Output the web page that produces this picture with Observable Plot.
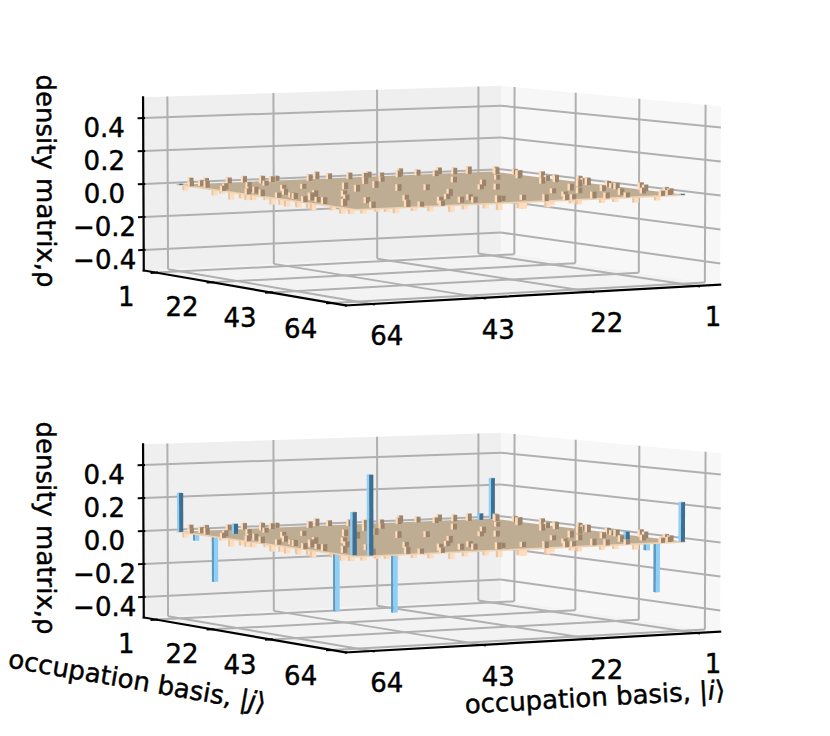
<!DOCTYPE html>
<html>
<head>
<meta charset="utf-8">
<script src="https://cdn.jsdelivr.net/npm/d3@7"></script>
<script src="https://cdn.jsdelivr.net/npm/@observablehq/plot@0.6"></script>
<style>
  html, body { margin: 0; padding: 0; background: #ffffff; }
  #chart svg { display: block; }
</style>
</head>
<body>
<div id="chart"></div>
<script>
// ---------------- data ----------------
const basisTicks = [1, 22, 43, 64];
const basisTickLabels = ["1", "22", "43", "64"];
const zTicks = [-0.4, -0.2, 0.0, 0.2, 0.4];
const zTickLabels = ["\u22120.4", "\u22120.2", "0.0", "0.2", "0.4"];
const basisSize = 64;
const zLabel = "density matrix,\u03c1";
const iLabel = "occupation basis, |i\u27e9";
const jLabel = "occupation basis, |j\u27e9";

// large matrix elements [i, j, value], lower panel
const signalLower = [
  [64, 1, 0.235], [64, 7, -0.04], [64, 14, -0.27], [58, 10, 0.06],
  [64, 57, -0.33], [63, 61, 0.245], [61, 63, 0.46], [57, 64, -0.33],
  [4, 2, 0.04], [1, 1, 0.255], [7, 56, 0.05], [8, 64, -0.04],
  [6, 64, -0.29], [1, 64, 0.235]
];
// same elements in the upper panel (almost zero)
const signalUpper = [
  [64, 1, 0.006], [1, 64, 0.006]
];
// visible small background elements [i, j, value], both panels
const background = [
  [64,3,-0.03],[62,5,0.035],[63,9,0.04],[61,11,-0.035],[64,17,0.03],[60,19,-0.04],
  [63,22,-0.035],[62,25,0.04],[64,28,-0.03],[59,30,0.035],[63,33,-0.045],[61,36,0.03],
  [64,38,-0.035],[60,41,0.04],[62,44,-0.04],[64,46,0.035],[59,49,-0.03],[63,51,0.04],
  [61,55,-0.035],[60,59,-0.04],[64,62,-0.03],
  [64,5,0.03],[63,12,-0.04],[62,14,0.035],[64,20,-0.045],[61,21,0.03],[63,24,-0.04],
  [64,26,0.035],[62,29,-0.03],[64,31,0.04],[60,32,-0.035],[63,35,0.03],[64,40,-0.04],
  [62,39,0.035],[63,42,-0.03],[61,43,0.04],[64,44,-0.035],[62,47,0.03],[64,49,-0.04],
  [63,54,-0.03],[62,56,0.04],[64,59,-0.035],[57,4,-0.03],
  [58,15,0.04],[56,27,-0.035],[57,37,0.04],[58,46,-0.03],[56,53,0.035],[55,58,-0.04],
  [55,61,-0.04],[52,64,0.03],[49,62,-0.035],[46,60,0.04],[43,63,-0.03],
  [40,61,0.035],[37,64,-0.04],[34,60,0.03],[31,62,-0.045],[28,64,0.04],[25,61,-0.035],
  [22,63,0.03],[19,60,-0.04],[16,64,0.035],[13,62,-0.03],[10,59,0.04],[4,61,-0.035],[3,63,0.03],
  [60,62,0.035],[58,60,-0.03],[54,63,0.04],[51,60,-0.035],[48,64,0.03],[45,62,-0.045],
  [42,60,0.035],[39,63,-0.03],[36,62,0.04],[33,64,-0.035],[30,60,0.03],[27,63,-0.04],
  [24,64,0.035],[21,61,-0.03],[18,63,0.04],[15,61,-0.035],[12,64,0.03],[9,62,-0.04],
  [2,62,0.035],[5,64,0.03],[47,57,-0.03],[38,56,0.035],[29,58,-0.04],[20,57,0.03],[11,56,-0.035],
  [60,3,0.04],[55,2,0.035],[50,5,0.045],[45,1,0.03],[40,4,0.04],[35,2,0.035],
  [30,6,0.04],[25,3,0.03],[20,1,0.045],[15,5,0.035],[10,3,0.04],
  [62,1,0.04],[52,2,0.04],[47,3,0.035],[37,1,0.045],[32,4,0.04],[27,2,0.035],
  [22,4,0.04],[17,2,0.035],[12,1,0.04],[7,3,0.045],[2,4,0.04],
  [3,6,0.04],[2,12,0.035],[5,17,0.045],[1,23,0.03],[4,28,0.04],[2,34,0.035],
  [6,39,0.04],[3,45,0.03],[1,51,0.045],[5,58,0.035],
  [1,9,0.035],[3,14,0.04],[2,20,0.045],[4,25,0.035],[1,31,0.04],[3,37,0.045],
  [2,42,0.035],[4,48,0.04],[2,54,0.04],[1,59,0.035],
  [45,30,0.04],[30,40,-0.04],[20,20,0.035],[50,45,-0.03],[35,15,0.04],[15,35,-0.035],
  [40,52,0.03],[25,28,-0.04],[55,22,0.035],[12,46,0.04],[48,12,-0.035],[18,50,0.03],
  [33,33,0.035],[42,8,-0.03],[8,30,0.04],[52,38,0.035],[27,55,-0.03],[38,24,0.04],
  [50,20,0.03],[44,14,-0.035],[38,32,0.04],[28,18,-0.03],[22,38,0.035],[16,26,-0.04],
  [10,18,0.03],[46,40,-0.035],[36,46,0.04],[26,44,-0.03],[14,52,0.035],[54,30,-0.04],
  [30,12,0.03],[20,30,0.04],[40,40,-0.03],[48,52,0.035],[34,50,-0.035],[24,36,0.03],
  [12,40,-0.04],[56,46,0.035],[44,24,0.04],[18,14,-0.03],[8,50,0.035],[52,10,0.03]
];

// ---------------- view / layout ----------------
const W = 830, H = 736;
const DEG = Math.PI / 180;
const cam = {phi: 30, elev: 4.3, dist: 12.3, scale: 422.4, cx: 427.2, cy: 189.2, panelGap: 347};
const box = {i: [-3.75, 68.75], j: [-3.75, 68.75], z: [-0.525, 0.525], zAspect: 0.4172};
const barWidth = 0.8;
const sinP = Math.sin(cam.phi * DEG), cosP = Math.cos(cam.phi * DEG);
const sinE = Math.sin(cam.elev * DEG), cosE = Math.cos(cam.elev * DEG);
const iMid = (box.i[0] + box.i[1]) / 2, iSpan = box.i[1] - box.i[0];
const jMid = (box.j[0] + box.j[1]) / 2, jSpan = box.j[1] - box.j[0];
const zMid = (box.z[0] + box.z[1]) / 2, zSpan = box.z[1] - box.z[0];

function norm(i, j, z) {
  return [(iMid - i) / iSpan, (jMid - j) / jSpan, (z - zMid) / zSpan * box.zAspect];
}
function proj(i, j, z, panel) {
  const [p, q, c] = norm(i, j, z);
  const X = p * cosP - q * sinP;
  const d = p * sinP + q * cosP;
  const Y = c * cosE + d * sinE;
  const Zc = d * cosE - c * sinE;
  const k = cam.dist / (cam.dist + Zc);
  return [cam.cx + cam.scale * X * k, cam.cy + panel * cam.panelGap - cam.scale * Y * k];
}
function depth(i, j) {
  const [p, q] = norm(i, j, 0);
  return p * sinP + q * cosP;
}

const colors = {
  paneLeft: "#efefef", paneRight: "#f7f7f7", paneFloor: "#f3f3f3",
  grid: "#b0b0b0", plane: "#bfad93", skirt: "#efd2b2",
  tan: {top: "#bba689", posL: "#ffdcbb", posR: "#9c846c", negL: "#e6c6a5", negR: "#ffdcbb"},
  blue: {top: "#6aa8d0", posL: "#8fd0f8", posR: "#3e6f90", negL: "#5b9bc4", negR: "#8ecff7"}
};

// ---------------- geometry ----------------
const panes = [], negBars = [], planes = [], posBars = [], grid = [], axes = [], ticks = [], skirts = [];
let pid = 0;
function addPoly(target, pts, panel, fill) {
  const id = pid++;
  for (const [i, j, z] of pts) {
    const [x, y] = proj(i, j, z, panel);
    target.push({x, y, id, fill});
  }
}
function addPath(target, pts, panel) {
  const id = pid++;
  for (const [i, j, z] of pts) {
    const [x, y] = proj(i, j, z, panel);
    target.push({x, y, id});
  }
}
const addLine = (target, a, b, panel) => addPath(target, [a, b], panel);

const [i0, i1] = box.i, [j0, j1] = box.j, [z0, z1] = box.z;
const panels = [
  {index: 0, signal: signalUpper},
  {index: 1, signal: signalLower}
];

for (const pan of panels) {
  const P = pan.index;
  // panes
  addPoly(panes, [[i0, j0, z0], [i1, j0, z0], [i1, j1, z0], [i0, j1, z0]], P, colors.paneFloor);
  addPoly(panes, [[i0, j0, z0], [i1, j0, z0], [i1, j0, z1], [i0, j0, z1]], P, colors.paneLeft);
  addPoly(panes, [[i0, j0, z0], [i0, j1, z0], [i0, j1, z1], [i0, j0, z1]], P, colors.paneRight);
  // grid
  for (const t of basisTicks) {
    addLine(grid, [t, j0, z0], [t, j0, z1], P);
    addLine(grid, [i0, t, z0], [i0, t, z1], P);
    addLine(grid, [t, j0, z0], [t, j1, z0], P);
    addLine(grid, [i0, t, z0], [i1, t, z0], P);
  }
  for (const t of zTicks) {
    addLine(grid, [i0, j0, t], [i1, j0, t], P);
    addLine(grid, [i0, j0, t], [i0, j1, t], P);
  }
  // z = 0 sheet of the small elements
  const lo = 1 - barWidth / 2, hi = basisSize + barWidth / 2;
  addPoly(planes, [[lo, lo, 0], [hi, lo, 0], [hi, hi, 0], [lo, hi, 0]], P, colors.plane);
  addPath(skirts, [[hi, lo, 0], [hi, hi, 0], [lo, hi, 0]], P);

  // bars
  const cells = new Map();
  for (const [i, j, v] of background) cells.set(i + "," + j, {i, j, v, kind: "tan"});
  for (const [i, j, v] of pan.signal) cells.set(i + "," + j, {i, j, v, kind: "blue"});
  const list = Array.from(cells.values()).filter(c => c.v !== 0)
    .sort((a, b) => depth(b.i, b.j) - depth(a.i, a.j));
  const w = barWidth / 2;
  for (const c of list) {
    const col = colors[c.kind];
    const a = c.i - w, b = c.i + w, e = c.j - w, f = c.j + w;
    const lowZ = Math.min(0, c.v), topZ = Math.max(0, c.v);
    const target = c.v < 0 ? negBars : posBars;
    const pos = c.v > 0;
    addPoly(target, [[b, e, lowZ], [b, f, lowZ], [b, f, topZ], [b, e, topZ]], P, pos ? col.posL : col.negL);
    addPoly(target, [[a, f, lowZ], [b, f, lowZ], [b, f, topZ], [a, f, topZ]], P, pos ? col.posR : col.negR);
    addPoly(target, [[a, e, topZ], [b, e, topZ], [b, f, topZ], [a, f, topZ]], P, col.top);
  }

  // axis lines
  addLine(axes, [i1, j0, z0], [i1, j0, z1], P);
  addLine(axes, [i1, j0, z0], [i1, j1, z0], P);
  addLine(axes, [i0, j1, z0], [i1, j1, z0], P);
  // ticks
  const outI = 0.015 * iSpan, inI = 0.005 * iSpan, outJ = 0.015 * jSpan, inJ = 0.005 * jSpan;
  for (const t of zTicks) addLine(ticks, [i1 + outI, j0, t], [i1 - inI, j0, t], P);
  for (const t of basisTicks) {
    addLine(ticks, [i1 + outI, t, z0], [i1 - inI, t, z0], P);
    addLine(ticks, [t, j1 + outJ, z0], [t, j1 - inJ, z0], P);
  }
}

// ---------------- labels ----------------
const zLab = [], jLab = [], iLab = [], titles = [];
const jLabOff = {di: 0.08 * iSpan, dz: 0.14};
const iLabOff = {dj: 0.07 * jSpan, dz: 0.172};
for (const pan of panels) {
  const P = pan.index;
  zTicks.forEach((t, k) => {
    const [x, y] = proj(i1, j0, t, P);
    zLab.push({x, y, text: zTickLabels[k]});
  });
  basisTicks.forEach((t, k) => {
    let [x, y] = proj(i1 + jLabOff.di, t, z0 - jLabOff.dz, P);
    jLab.push({x, y, text: basisTickLabels[k]});
    [x, y] = proj(t, j1 + iLabOff.dj, z0 - iLabOff.dz, P);
    iLab.push({x, y, text: basisTickLabels[k]});
  });
  const zt = proj(i1, j0, z1, P), zb = proj(i1, j0, z0, P), zm = proj(i1, j0, zMid, P);
  titles.push({x: zm[0], y: zm[1], text: zLabel,
    rotate: Math.atan2(zb[1] - zt[1], zb[0] - zt[0]) / DEG, dx: -98, dy: -3});
  if (P === 1) {
    const ja = proj(i1, j0, z0, P), jb = proj(i1, j1, z0, P), jm = proj(i1, jMid, z0, P);
    titles.push({x: jm[0], y: jm[1], text: jLabel,
      rotate: Math.atan2(jb[1] - ja[1], jb[0] - ja[0]) / DEG, dx: -104, dy: 47});
    const ia = proj(i1, j1, z0, P), ib = proj(i0, j1, z0, P), im = proj(iMid, j1, z0, P);
    titles.push({x: im[0], y: im[1], text: iLabel,
      rotate: Math.atan2(ib[1] - ia[1], ib[0] - ia[0]) / DEG, dx: 58, dy: 56});
  }
}

const font = "DejaVu Sans";
const polyMark = (data) => Plot.line(data, {x: "x", y: "y", z: "id", fill: "fill", stroke: "none"});
const textStyle = {fontSize: 26, textAnchor: "middle", fill: "black", stroke: "black", strokeWidth: 0.45};

const titleMarks = titles.map(t => Plot.text([t], {
  x: "x", y: "y", text: "text", rotate: t.rotate, dx: t.dx, dy: t.dy, ...textStyle
}));

const chart = Plot.plot({
  width: W, height: H, margin: 0,
  x: {domain: [0, W], range: [0, W], axis: null},
  y: {domain: [0, H], range: [0, H], axis: null},
  color: {type: "identity"},
  style: {fontFamily: font, background: "#ffffff", overflow: "visible"},
  marks: [
    polyMark(panes),
    Plot.line(grid, {x: "x", y: "y", z: "id", stroke: colors.grid, strokeWidth: 2, strokeLinecap: "butt"}),
    polyMark(negBars),
    polyMark(planes),
    Plot.line(skirts, {x: "x", y: "y", z: "id", stroke: colors.skirt, strokeWidth: 1.6}),
    polyMark(posBars),
    Plot.line(axes, {x: "x", y: "y", z: "id", stroke: "black", strokeWidth: 2.2, strokeLinecap: "square"}),
    Plot.line(ticks, {x: "x", y: "y", z: "id", stroke: "black", strokeWidth: 2, strokeLinecap: "butt"}),
    Plot.text(zLab, {x: "x", y: "y", text: "text", dx: -39, dy: 11, ...textStyle}),
    Plot.text(jLab, {x: "x", y: "y", text: "text", ...textStyle}),
    Plot.text(iLab, {x: "x", y: "y", text: "text", ...textStyle}),
    ...titleMarks
  ]
});

// italic i / j inside the ket labels
d3.select(chart).selectAll("text").each(function () {
  const t = this.textContent;
  const m = t.match(/^(.*\|)([ij])(\u27e9)$/);
  if (m) {
    const el = d3.select(this);
    el.text(null);
    el.append("tspan").text(m[1]);
    el.append("tspan").attr("font-style", "italic").text(m[2]);
    el.append("tspan").text(m[3]);
  }
});

document.getElementById("chart").appendChild(chart);
</script>
</body>
</html>
